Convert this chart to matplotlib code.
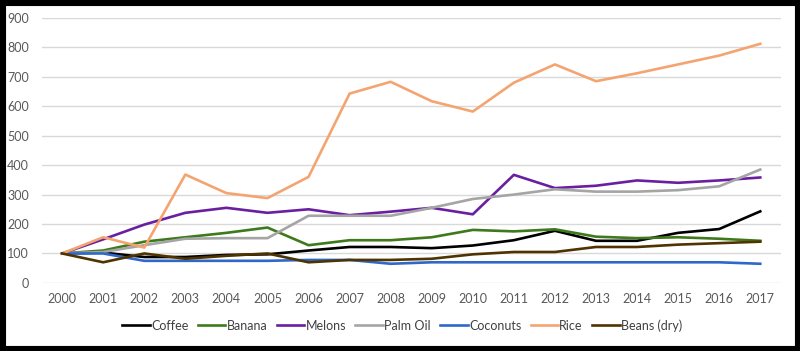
import matplotlib.pyplot as plt
from matplotlib.patches import Rectangle

years = list(range(2000, 2018))
coffee = [100, 103, 88, 88, 95, 97, 110, 122, 122, 118, 127, 145, 177, 143, 143, 170, 183, 243]
banana = [100, 110, 140, 155, 170, 188, 128, 145, 145, 155, 180, 175, 182, 157, 152, 155, 150, 143]
melons = [100, 148, 198, 238, 255, 238, 250, 230, 242, 255, 233, 367, 322, 330, 348, 340, 348, 358]
palm_oil = [100, 105, 128, 150, 152, 152, 228, 228, 228, 255, 285, 300, 318, 310, 310, 315, 328, 385]
coconuts = [100, 100, 75, 75, 75, 75, 78, 78, 65, 70, 70, 70, 70, 70, 70, 70, 70, 65]
rice = [100, 155, 120, 368, 305, 288, 360, 643, 683, 617, 582, 680, 742, 685, 712, 742, 772, 812]
beans = [100, 70, 100, 82, 92, 100, 70, 78, 78, 82, 97, 105, 105, 122, 122, 130, 135, 140]

series = [
    ("Coffee", coffee, "#000000"),
    ("Banana", banana, "#3E7A1C"),
    ("Melons", melons, "#6A1FA0"),
    ("Palm Oil", palm_oil, "#A5A5A5"),
    ("Coconuts", coconuts, "#2F68C8"),
    ("Rice", rice, "#F4A470"),
    ("Beans (dry)", beans, "#4F3300"),
]

plt.rcParams['font.family'] = ['Lato', 'DejaVu Sans']

fig = plt.figure(figsize=(8, 3.51), dpi=100)
fig.patch.set_facecolor('white')
# black frame round the picture
fig.patches.append(Rectangle((0, 0), 1, 1, transform=fig.transFigure,
                             fill=False, edgecolor='black', linewidth=8))
ax = fig.add_axes([0.052, 0.194, 0.924, 0.755])

x = list(range(len(years)))
for name, vals, col in series:
    ax.plot(x, vals, color=col, linewidth=1.9, label=name)

ax.set_xlim(-0.5, len(years) - 0.5)
ax.set_ylim(0, 900)
ax.set_yticks(range(0, 901, 100))
ax.set_xticks(x)
ax.set_xticklabels([str(y) for y in years])
ax.grid(axis='y', color='#D9D9D9', linewidth=1)
ax.set_axisbelow(True)
for s in ax.spines.values():
    s.set_visible(False)
ax.tick_params(length=0, labelsize=9, colors='#595959', pad=7)
ax.tick_params(axis='y', pad=9)

ax.legend(loc='center', bbox_to_anchor=(0.488, -0.16), ncol=7, frameon=False,
          fontsize=9, handlelength=2.2, handletextpad=0.1, columnspacing=0.75,
          labelcolor='#404040')

fig.savefig('out.png', dpi=100)
